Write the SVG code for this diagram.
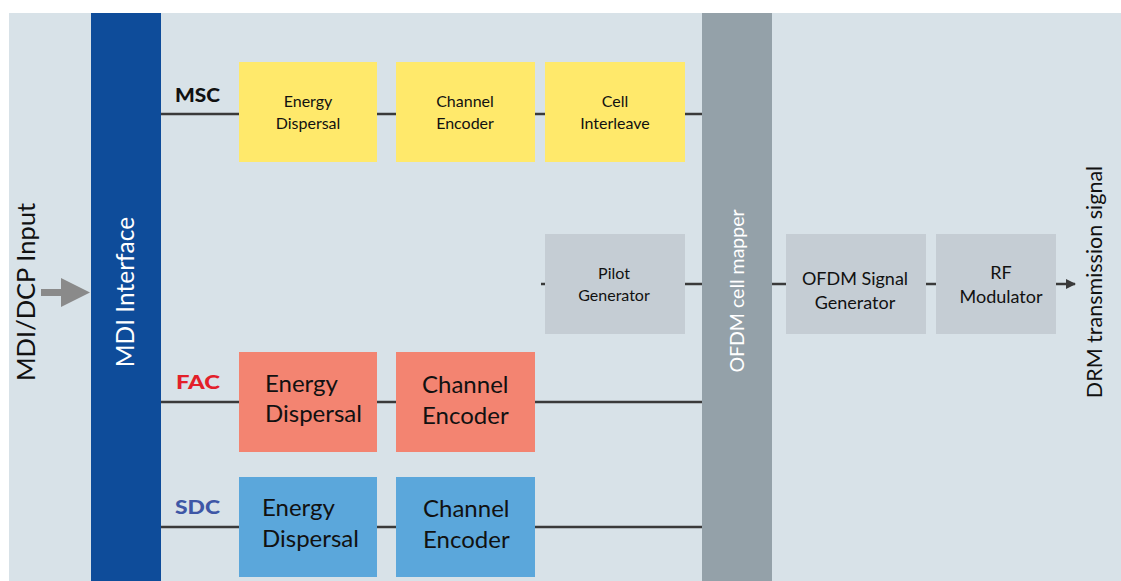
<svg xmlns="http://www.w3.org/2000/svg" width="1121" height="581" viewBox="0 0 1121 581">
<defs>
<style>
.t{font-family:Lato,"Open Sans","Liberation Sans",sans-serif;fill:#111;}
.ys{font-size:16px;text-anchor:middle;}
.gs{font-size:16px;text-anchor:middle;}
.gm{font-size:18px;text-anchor:middle;}
.big{font-size:24px;}
.lab{font-size:19px;font-weight:900;}
.ln{stroke:#3a3a3a;stroke-width:2.5;fill:none;}
.yel{fill:#ffe96b;}
.sal{fill:#f38471;}
.blu{fill:#5ba7db;}
.gry{fill:#c5cdd4;}
</style>
<marker id="ah" viewBox="0 0 10 10" refX="9" refY="5" markerWidth="4" markerHeight="4" orient="auto" markerUnits="strokeWidth">
<path d="M0,0 L10,5 L0,10 z" fill="#3a3a3a"/>
</marker>
</defs>
<rect x="9" y="13" width="1112" height="568" fill="#d8e2e8"/>

<g id="connectors">
<line class="ln" x1="161" y1="114" x2="239" y2="114"/>
<line class="ln" x1="377" y1="114" x2="396" y2="114"/>
<line class="ln" x1="535" y1="114" x2="545" y2="114"/>
<line class="ln" x1="685" y1="114" x2="702" y2="114"/>
<line class="ln" x1="541" y1="284" x2="545" y2="284"/>
<line class="ln" x1="685" y1="284" x2="702" y2="284"/>
<line class="ln" x1="772" y1="284" x2="786" y2="284"/>
<line class="ln" x1="926" y1="284" x2="936" y2="284"/>
<line class="ln" x1="1056" y1="284" x2="1075" y2="284" marker-end="url(#ah)"/>
<line class="ln" x1="161" y1="402" x2="239" y2="402"/>
<line class="ln" x1="377" y1="402" x2="396" y2="402"/>
<line class="ln" x1="535" y1="402" x2="702" y2="402"/>
<line class="ln" x1="161" y1="527" x2="239" y2="527"/>
<line class="ln" x1="377" y1="527" x2="396" y2="527"/>
<line class="ln" x1="535" y1="527" x2="702" y2="527"/>
<path d="M41,289 H61 V278 L90,292.5 L61,307 V296 H41 z" fill="#8a8a8a"/>
</g>

<g id="input-label">
<text class="t" transform="translate(35,292) rotate(-90)" text-anchor="middle" font-size="25.5">MDI/DCP Input</text>
</g>

<g id="mdi-interface">
<rect x="91" y="13" width="70" height="568" fill="#0e4c9a"/>
<text class="t" transform="translate(134,292) rotate(-90)" text-anchor="middle" font-size="24.5" style="fill:#fff">MDI Interface</text>
</g>

<g id="ofdm-cell-mapper">
<rect x="702" y="13" width="70" height="568" fill="#94a1a9"/>
<text class="t" transform="translate(744,291) rotate(-90)" text-anchor="middle" font-size="19.5" style="fill:#fff">OFDM cell mapper</text>
</g>

<g id="output-label">
<text class="t" transform="translate(1102,282) rotate(-90)" text-anchor="middle" font-size="21.5">DRM transmission signal</text>
</g>

<g id="msc-label"><text class="t lab" x="175" y="102" textLength="45" lengthAdjust="spacingAndGlyphs">MSC</text></g>
<g id="fac-label"><text class="t lab" x="176" y="389" textLength="44" lengthAdjust="spacingAndGlyphs" style="fill:#e3202a">FAC</text></g>
<g id="sdc-label"><text class="t lab" x="175" y="514" textLength="45" lengthAdjust="spacingAndGlyphs" style="fill:#3e57a6">SDC</text></g>

<g id="msc-energy">
<rect class="yel" x="239" y="62" width="138" height="100"/>
<text class="t ys" x="308" y="107">Energy</text>
<text class="t ys" x="308" y="129">Dispersal</text>
</g>
<g id="msc-channel">
<rect class="yel" x="396" y="62" width="139" height="100"/>
<text class="t ys" x="465" y="107">Channel</text>
<text class="t ys" x="465" y="129">Encoder</text>
</g>
<g id="msc-cell">
<rect class="yel" x="545" y="62" width="140" height="100"/>
<text class="t ys" x="615" y="107">Cell</text>
<text class="t ys" x="615" y="129">Interleave</text>
</g>

<g id="pilot-generator">
<rect class="gry" x="545" y="234" width="140" height="100"/>
<text class="t gs" x="614" y="279">Pilot</text>
<text class="t gs" x="614" y="301">Generator</text>
</g>
<g id="ofdm-signal-generator">
<rect class="gry" x="786" y="234" width="140" height="100"/>
<text class="t gm" x="855" y="285">OFDM Signal</text>
<text class="t gm" x="855" y="309">Generator</text>
</g>
<g id="rf-modulator">
<rect class="gry" x="936" y="234" width="120" height="100"/>
<text class="t gm" x="1001" y="279">RF</text>
<text class="t gm" x="1001" y="303">Modulator</text>
</g>

<g id="fac-energy">
<rect class="sal" x="239" y="352" width="138" height="100"/>
<text class="t big" x="265" y="392">Energy</text>
<text class="t big" x="265" y="422">Dispersal</text>
</g>
<g id="fac-channel">
<rect class="sal" x="396" y="352" width="139" height="100"/>
<text class="t big" x="422" y="393">Channel</text>
<text class="t big" x="422" y="424">Encoder</text>
</g>

<g id="sdc-energy">
<rect class="blu" x="239" y="477" width="138" height="100"/>
<text class="t big" x="262" y="516">Energy</text>
<text class="t big" x="262" y="547">Dispersal</text>
</g>
<g id="sdc-channel">
<rect class="blu" x="396" y="477" width="139" height="100"/>
<text class="t big" x="423" y="517">Channel</text>
<text class="t big" x="423" y="548">Encoder</text>
</g>
</svg>
